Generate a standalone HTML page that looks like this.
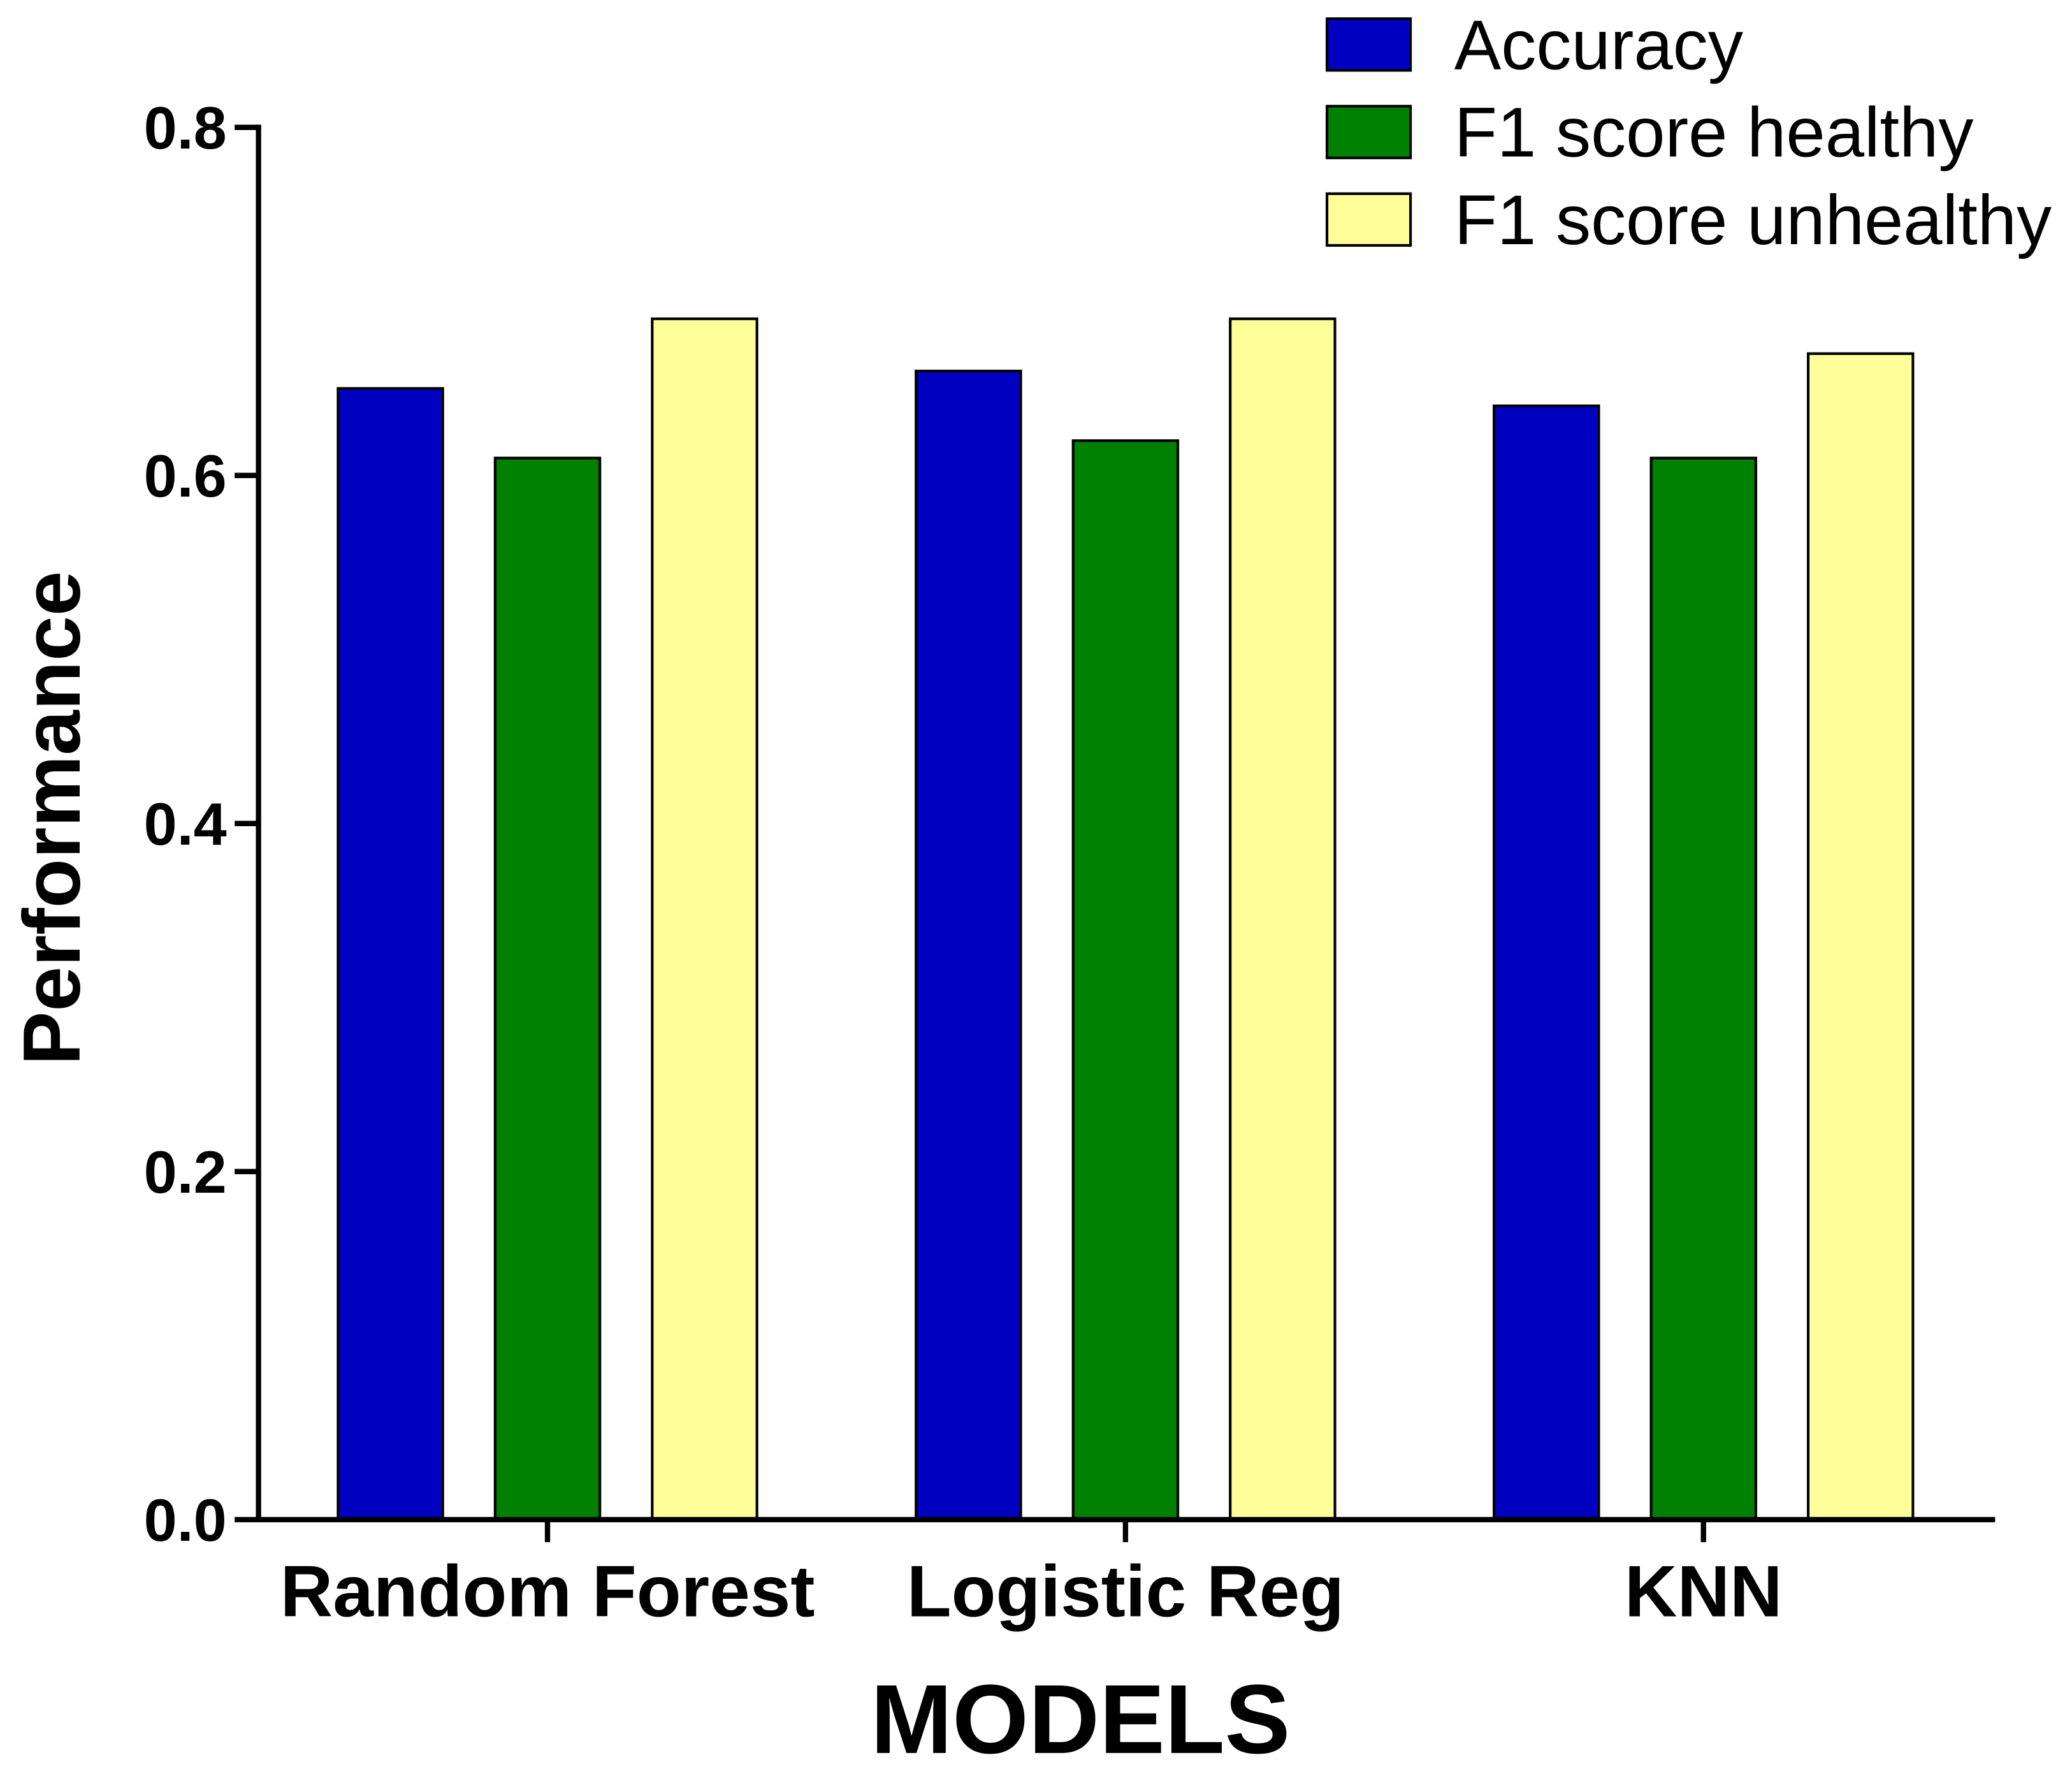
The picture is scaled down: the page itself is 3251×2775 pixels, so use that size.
<!DOCTYPE html>
<html><head><meta charset="utf-8"><style>
html,body{margin:0;padding:0;background:#fff;}
svg{display:block;font-family:"Liberation Sans",Arial,sans-serif;}
</style></head><body>
<svg id="chart" width="3251" height="2775" viewBox="0 0 1563 1334" xmlns="http://www.w3.org/2000/svg">
<g id="bars"></g>
<g id="axes"></g>
<text transform="translate(60,617) rotate(-90)" text-anchor="middle" font-size="61" font-weight="bold">Performance</text>
<text x="815" y="1322" text-anchor="middle" font-size="74" font-weight="bold">MODELS</text>
<g>
<rect x="1001" y="14" width="63" height="39" fill="#0000c0" stroke="#000" stroke-width="2"/>
<text x="1097" y="52" font-size="53">Accuracy</text>
<rect x="1001" y="80" width="63" height="39" fill="#008000" stroke="#000" stroke-width="2"/>
<text x="1097" y="118" font-size="53">F1 score healthy</text>
<rect x="1001" y="146" width="63" height="39" fill="#ffff99" stroke="#000" stroke-width="2"/>
<text x="1097" y="184" font-size="53">F1 score unhealthy</text>
</g>
<script>
const categories = ["Random Forest", "Logistic Reg", "KNN"];
const accuracy = [0.65, 0.66, 0.64];
const f1Healthy = [0.61, 0.62, 0.61];
const f1Unhealthy = [0.69, 0.69, 0.67];
const yTicks = [0.0, 0.2, 0.4, 0.6, 0.8];
const yTickLabels = ["0.0", "0.2", "0.4", "0.6", "0.8"];

const NS = "http://www.w3.org/2000/svg";
const y0 = 1146, yTop = 96, xAxisL = 195, xAxisR = 1505;
function yScale(v){ return y0 - (v/0.8)*(y0-yTop); }
const groupStart = 255, groupStep = 436, barStep = 118.5, barW = 79;
function xBar(g, s){ return groupStart + g*groupStep + s*barStep; }
function xCenter(g){ return xBar(g,1) + barW/2; }

const series = [[accuracy,"#0000c0","accuracy"],[f1Healthy,"#008000","f1-healthy"],[f1Unhealthy,"#ffff99","f1-unhealthy"]];
const bars = document.getElementById("bars");
series.forEach(([vals,color,nm],s)=>{
  vals.forEach((v,g)=>{
    const r = document.createElementNS(NS,"rect");
    r.setAttribute("x", xBar(g,s));
    r.setAttribute("y", yScale(v));
    r.setAttribute("width", barW);
    r.setAttribute("height", y0 - yScale(v));
    r.setAttribute("fill", color);
    r.setAttribute("stroke", "#000");
    r.setAttribute("stroke-width", "2");
    
    
    bars.appendChild(r);
  });
});

const axes = document.getElementById("axes");
function line(x1,y1,x2,y2,name){
  const l = document.createElementNS(NS,"line");
  l.setAttribute("x1",x1);l.setAttribute("y1",y1);l.setAttribute("x2",x2);l.setAttribute("y2",y2);
  l.setAttribute("stroke","#000");l.setAttribute("stroke-width","4");
  
  
  axes.appendChild(l);
}
line(xAxisL, yTop-2, xAxisL, y0+2, "y-axis-line");
line(xAxisL-2, y0, xAxisR, y0, "x-axis-line");
yTicks.forEach((v,i)=>{
  line(177, yScale(v), xAxisL, yScale(v), "y-tick");
  const t = document.createElementNS(NS,"text");
  t.setAttribute("x",171);t.setAttribute("y",yScale(v)+16);
  t.setAttribute("text-anchor","end");t.setAttribute("font-size","45");t.setAttribute("font-weight","bold");
  t.textContent = yTickLabels[i];
  
  
  axes.appendChild(t);
});
categories.forEach((c,g)=>{
  line(xCenter(g), y0, xCenter(g), 1163, "x-tick");
  const t = document.createElementNS(NS,"text");
  t.setAttribute("x",xCenter(g));t.setAttribute("y",1219);
  t.setAttribute("text-anchor","middle");t.setAttribute("font-size","55");t.setAttribute("font-weight","bold");
  t.textContent = c;
  
  
  axes.appendChild(t);
});
</script>
</svg>
</body></html>
